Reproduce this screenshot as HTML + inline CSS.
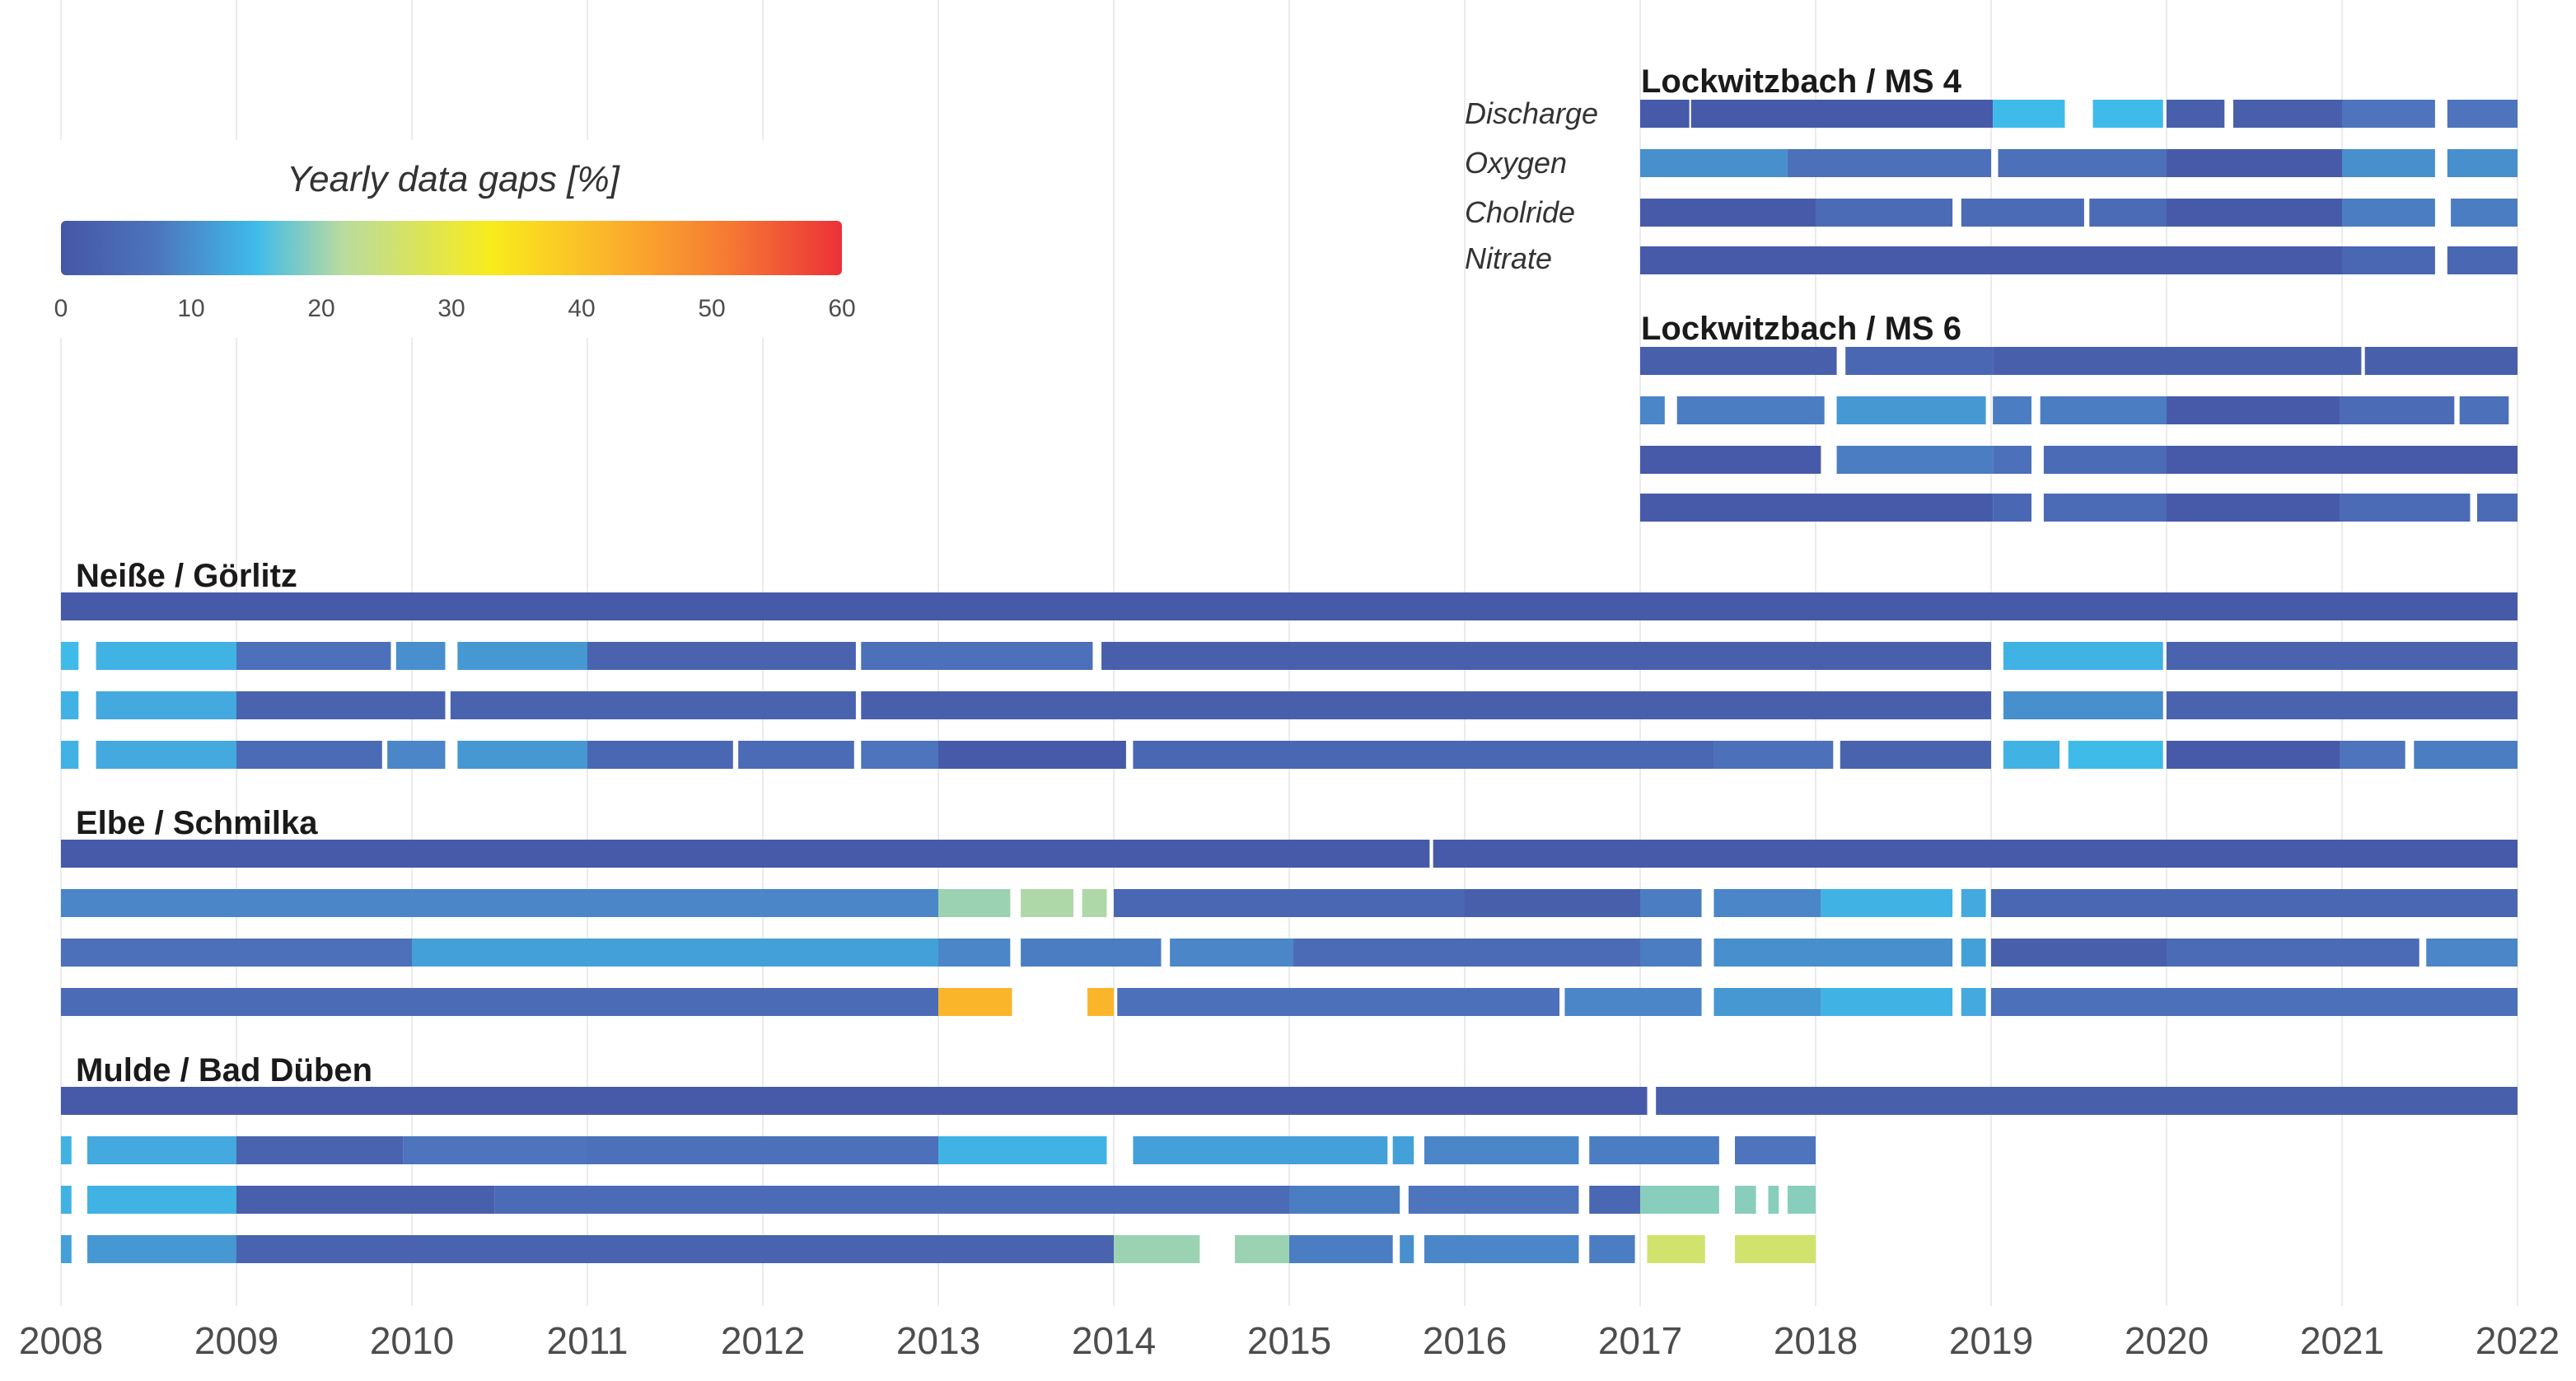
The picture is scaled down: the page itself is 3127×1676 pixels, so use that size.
<!DOCTYPE html>
<html><head><meta charset="utf-8"><style>
html,body{margin:0;padding:0;background:#fff;}
svg{display:block;font-family:"Liberation Sans",sans-serif;}
</style></head><body>
<svg id="chart" width="3127" height="1676" viewBox="0 0 3127 1676" xmlns="http://www.w3.org/2000/svg">
<g id="grid"></g>
<g id="legend">
  <rect x="0" y="170" width="1070" height="240" fill="#fff"/>
  <defs>
    <linearGradient id="cmap" x1="0" x2="1" y1="0" y2="0">
      <stop offset="0" stop-color="#4656a6"/>
      <stop offset="0.12" stop-color="#4d74bc"/>
      <stop offset="0.25" stop-color="#3fbbea"/>
      <stop offset="0.36" stop-color="#b9dba0"/>
      <stop offset="0.55" stop-color="#f8ec1c"/>
      <stop offset="0.70" stop-color="#fbb52b"/>
      <stop offset="0.85" stop-color="#f57c33"/>
      <stop offset="1" stop-color="#ec3138"/>
    </linearGradient>
  </defs>
  <text x="550" y="232" text-anchor="middle" font-size="44" font-style="italic" fill="#333">Yearly data gaps [%]</text>
  <rect x="74" y="268" width="948" height="66" rx="6" fill="url(#cmap)"/>
  <g id="legendTicks"></g>
</g>
<g id="bars"></g>
<g id="labels"></g>
<g id="xaxis"></g>
</svg>
<script>
const years = [2008,2009,2010,2011,2012,2013,2014,2015,2016,2017,2018,2019,2020,2021,2022];
const legendTickValues = [0,10,20,30,40,50,60];
const stationNames = ["Lockwitzbach / MS 4","Lockwitzbach / MS 6","Neiße / Görlitz","Elbe / Schmilka","Mulde / Bad Düben"];
const parameterNames = ["Discharge","Oxygen","Cholride","Nitrate"];
// segments: [startYear, endYear, gapPercent]
const ms4Discharge = [[2017.0,2017.28,1],[2017.29,2019.01,1],[2019.01,2019.42,15],[2019.58,2019.98,15],[2020.0,2020.33,2],[2020.38,2021.0,2],[2021.0,2021.53,7],[2021.6,2022,7]];
const ms4Oxygen = [[2017.0,2017.84,10],[2017.84,2019.0,6],[2019.04,2020.0,6],[2020.0,2021.0,1],[2021.0,2021.53,10],[2021.6,2022,10]];
const ms4Chloride = [[2017.0,2018.0,1],[2018.0,2018.78,5],[2018.83,2019.53,5],[2019.56,2020.0,5],[2020.0,2021.0,1],[2021.0,2021.53,8],[2021.62,2022,8]];
const ms4Nitrate = [[2017.0,2021.0,1],[2021.0,2021.53,4],[2021.6,2022,4]];
const ms6Discharge = [[2017.0,2018.12,2],[2018.17,2019.01,4],[2019.01,2021.11,2],[2021.13,2022,2]];
const ms6Oxygen = [[2017.0,2017.14,9],[2017.21,2018.05,8],[2018.12,2018.97,11],[2019.01,2019.23,8],[2019.28,2020.0,8],[2020.0,2020.99,1],[2020.99,2021.64,5],[2021.67,2021.95,6]];
const ms6Chloride = [[2017.0,2018.03,1],[2018.12,2019.01,8],[2019.01,2019.23,6],[2019.30,2020.0,5],[2020.0,2022,1]];
const ms6Nitrate = [[2017.0,2019.01,1],[2019.01,2019.23,4],[2019.30,2020.0,5],[2020.0,2020.99,1],[2020.99,2021.73,5],[2021.77,2022,5]];
const neisseDischarge = [[2008.0,2022,1]];
const neisseOxygen = [[2008.0,2008.1,15],[2008.2,2009.0,14],[2009.0,2009.88,6],[2009.91,2010.19,10],[2010.26,2011.0,11],[2011.0,2012.53,3],[2012.56,2013.88,6],[2013.93,2019.0,2],[2019.07,2019.98,14],[2020.0,2022,3]];
const neisseChloride = [[2008.0,2008.1,14],[2008.2,2009.0,13],[2009.0,2010.19,3],[2010.22,2012.53,3],[2012.56,2019.0,2],[2019.07,2019.98,10],[2020.0,2022,3]];
const neisseNitrate = [[2008.0,2008.1,14],[2008.2,2009.0,13],[2009.0,2009.83,5],[2009.86,2010.19,9],[2010.26,2011.0,11],[2011.0,2011.83,4],[2011.86,2012.52,5],[2012.56,2013.0,7],[2013.0,2014.07,1],[2014.11,2017.42,4],[2017.42,2018.10,6],[2018.14,2019.0,3],[2019.07,2019.39,14],[2019.44,2019.98,15],[2020.0,2020.99,1],[2020.99,2021.36,7],[2021.41,2022,8]];
const elbeDischarge = [[2008.0,2015.80,1],[2015.82,2022,1]];
const elbeOxygen = [[2008.0,2013.0,9],[2013.0,2013.41,20],[2013.47,2013.77,21],[2013.82,2013.96,21],[2014.0,2016.0,4],[2016.0,2017.0,2],[2017.0,2017.35,8],[2017.42,2018.03,9],[2018.03,2018.78,14],[2018.83,2018.97,13],[2019.0,2022,4]];
const elbeChloride = [[2008.0,2010.0,6],[2010.0,2013.0,12],[2013.0,2013.41,9],[2013.47,2014.27,8],[2014.32,2015.02,9],[2015.02,2017.0,5],[2017.0,2017.35,8],[2017.42,2018.78,10],[2018.83,2018.97,12],[2019.0,2020.0,2],[2020.0,2021.44,5],[2021.48,2022,9]];
const elbeNitrate = [[2008.0,2013.0,5],[2013.0,2013.42,42],[2013.85,2014.0,42],[2014.02,2016.54,6],[2016.57,2017.35,9],[2017.42,2018.03,11],[2018.03,2018.78,14],[2018.83,2018.97,13],[2019.0,2022,6]];
const muldeDischarge = [[2008.0,2017.04,1],[2017.09,2022,2]];
const muldeOxygen = [[2008.0,2008.06,14],[2008.15,2009.0,13],[2009.0,2009.95,3],[2009.95,2011.0,7],[2011.0,2013.0,6],[2013.0,2013.96,14],[2014.11,2015.56,12],[2015.59,2015.71,12],[2015.77,2016.65,9],[2016.71,2017.45,8],[2017.54,2018.0,7]];
const muldeChloride = [[2008.0,2008.06,14],[2008.15,2009.0,14],[2009.0,2010.47,2],[2010.47,2015.0,5],[2015.0,2015.63,8],[2015.68,2016.65,7],[2016.71,2017.0,4],[2017.0,2017.45,19],[2017.54,2017.66,19],[2017.73,2017.79,19],[2017.84,2018.0,19]];
const muldeNitrate = [[2008.0,2008.06,12],[2008.15,2009.0,11],[2009.0,2014.0,3],[2014.0,2014.49,20],[2014.69,2015.0,20],[2015.0,2015.59,8],[2015.63,2015.71,10],[2015.77,2016.65,9],[2016.71,2016.97,8],[2017.04,2017.37,26],[2017.54,2018.0,26]];

const rows = [
  {name:"ms4-discharge", segs:ms4Discharge, cy:138},
  {name:"ms4-oxygen", segs:ms4Oxygen, cy:198},
  {name:"ms4-chloride", segs:ms4Chloride, cy:258},
  {name:"ms4-nitrate", segs:ms4Nitrate, cy:316},
  {name:"ms6-discharge", segs:ms6Discharge, cy:438},
  {name:"ms6-oxygen", segs:ms6Oxygen, cy:498},
  {name:"ms6-chloride", segs:ms6Chloride, cy:558},
  {name:"ms6-nitrate", segs:ms6Nitrate, cy:616},
  {name:"neisse-discharge", segs:neisseDischarge, cy:736},
  {name:"neisse-oxygen", segs:neisseOxygen, cy:796},
  {name:"neisse-chloride", segs:neisseChloride, cy:856},
  {name:"neisse-nitrate", segs:neisseNitrate, cy:916},
  {name:"elbe-discharge", segs:elbeDischarge, cy:1036},
  {name:"elbe-oxygen", segs:elbeOxygen, cy:1096},
  {name:"elbe-chloride", segs:elbeChloride, cy:1156},
  {name:"elbe-nitrate", segs:elbeNitrate, cy:1216},
  {name:"mulde-discharge", segs:muldeDischarge, cy:1336},
  {name:"mulde-oxygen", segs:muldeOxygen, cy:1396},
  {name:"mulde-chloride", segs:muldeChloride, cy:1456},
  {name:"mulde-nitrate", segs:muldeNitrate, cy:1516}
];
const NS="http://www.w3.org/2000/svg";
const X0=74, YW=213;
function xs(y){return X0+(y-2008)*YW;}
function lx(v){return 74+v/60*948;}
const stops=[[0,[70,86,166]],[7,[77,116,188]],[15,[63,187,234]],[21.6,[185,219,160]],[33,[248,236,28]],[42,[251,181,43]],[51,[245,124,51]],[60,[236,49,56]]];
function cmap(v){
  for(let i=0;i<stops.length-1;i++){
    const a=stops[i],b=stops[i+1];
    if(v<=b[0]){const t=(v-a[0])/(b[0]-a[0]);
      const c=a[1].map((k,j)=>Math.round(k+(b[1][j]-k)*t));return `rgb(${c})`;}
  }
  return 'rgb(236,49,56)';
}
const grid=document.getElementById('grid');
years.forEach(y=>{
  const l=document.createElementNS(NS,'line');
  l.setAttribute('x1',xs(y));l.setAttribute('x2',xs(y));
  l.setAttribute('y1',0);l.setAttribute('y2',1585);
  l.setAttribute('stroke','#ebebeb');l.setAttribute('stroke-width','2');
  
  
  grid.appendChild(l);
  const t=document.createElementNS(NS,'text');
  t.setAttribute('x',xs(y));t.setAttribute('y',1643);
  t.setAttribute('text-anchor','middle');t.setAttribute('font-size','46');t.setAttribute('fill','#4d4d4d');
  t.textContent=y;
  
  
  document.getElementById('xaxis').appendChild(t);
});
const lt=document.getElementById('legendTicks');
legendTickValues.forEach(v=>{
  const t=document.createElementNS(NS,'text');
  t.setAttribute('x',lx(v));t.setAttribute('y',384);
  t.setAttribute('text-anchor','middle');t.setAttribute('font-size','30');t.setAttribute('fill','#4d4d4d');
  t.textContent=v;
  
  
  lt.appendChild(t);
});
const bars=document.getElementById('bars');
rows.forEach(r=>{
  const g=document.createElementNS(NS,'g');
  
  
  r.segs.forEach(s=>{
    const rc=document.createElementNS(NS,'rect');
    rc.setAttribute('x',xs(s[0]));rc.setAttribute('width',Math.max(2,xs(s[1])-xs(s[0])));
    rc.setAttribute('y',r.cy-17);rc.setAttribute('height',34);
    rc.setAttribute('fill',cmap(s[2]));
    
    
    g.appendChild(rc);
  });
  bars.appendChild(g);
});
const labels=document.getElementById('labels');
const titlePos=[[1992,112],[1992,412],[92,712],[92,1012],[92,1312]];
stationNames.forEach((n,i)=>{
  const t=document.createElementNS(NS,'text');
  t.setAttribute('x',titlePos[i][0]);t.setAttribute('y',titlePos[i][1]);
  t.setAttribute('font-size','40');t.setAttribute('font-weight','bold');t.setAttribute('fill','#1a1a1a');
  t.textContent=n;
  
  
  labels.appendChild(t);
});
const pY=[150,210,270,326];
parameterNames.forEach((n,i)=>{
  const t=document.createElementNS(NS,'text');
  t.setAttribute('x',1778);t.setAttribute('y',pY[i]);
  t.setAttribute('font-size','36');t.setAttribute('font-style','italic');t.setAttribute('fill','#333');
  t.textContent=n;
  
  
  labels.appendChild(t);
});
</script>
</body></html>
